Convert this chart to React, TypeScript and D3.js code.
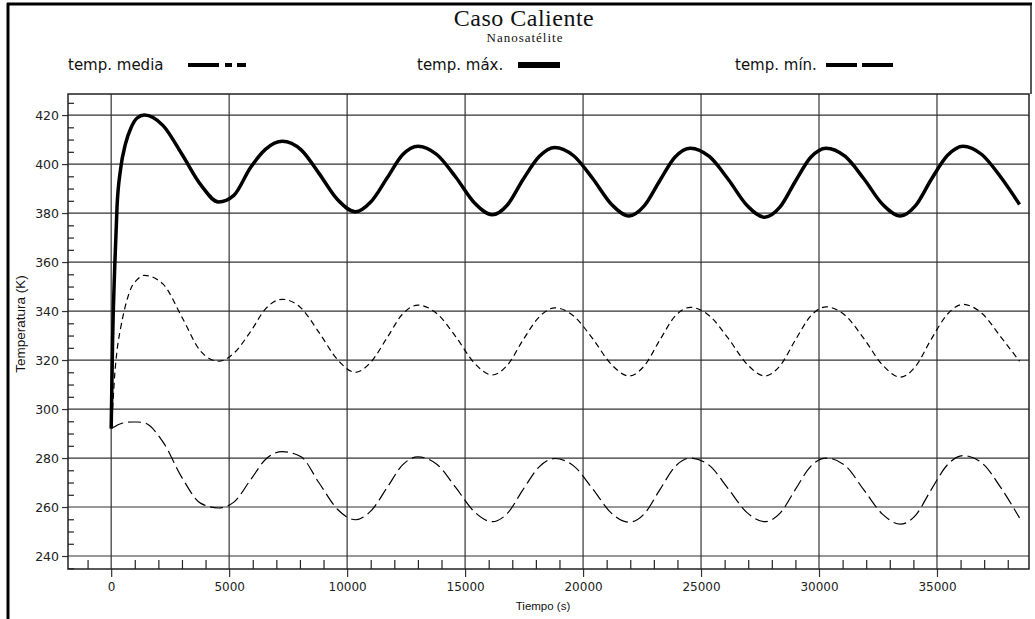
import React, { useEffect, useRef } from 'react';
import * as d3 from 'd3';

// tiempo (s)
const tiempos = [0, 60, 150, 250, 400, 600, 850, 1100, 1400,
  2200, 3000, 3800, 4550, 5200, 5900, 6550, 7250,
  8050, 8800, 9600, 10350, 11000, 11700, 12350, 13000,
  13800, 14600, 15400, 16150, 16800, 17450, 18150, 18800,
  19600, 20400, 21200, 21950, 22600, 23250, 23900, 24550,
  25350, 26150, 26950, 27700, 28350, 29000, 29650, 30300,
  31100, 31900, 32700, 33450, 34100, 34750, 35450, 36100,
  36900, 37700, 38500];

// temp. máx. (K)
const tempMax = [292, 328, 358, 383, 398, 408, 415, 418.8, 420,
  415.7, 404, 391.5, 384.5, 387.2, 398.5, 406.1, 409.3,
  405.8, 396.3, 385.4, 380.5, 384.5, 394.4, 403.8, 407.3,
  403.9, 394.7, 384.1, 379.3, 383.4, 393.6, 403.2, 406.8,
  403.4, 394.2, 383.6, 378.8, 383.0, 393.2, 402.9, 406.5,
  403.1, 393.8, 383.1, 378.3, 382.5, 393.0, 402.8, 406.5,
  403.2, 394.0, 383.5, 378.8, 383.1, 393.6, 403.6, 407.3,
  403.9, 394.7, 383.5];

// temp. media (K)
const tempMedia = [292, 300, 314, 324, 333, 342, 349.5, 352.8, 354.6,
  351, 337.5, 323.5, 319.5, 322.8, 331.5, 341, 344.8,
  341.2, 331.4, 320.1, 315, 319.1, 329.2, 338.8, 342.4,
  339, 329.6, 318.7, 313.9, 318, 328.1, 337.7, 341.3,
  338, 328.8, 318.2, 313.5, 317.7, 328.1, 337.9, 341.5,
  338.1, 328.9, 318.3, 313.5, 317.7, 328.2, 338, 341.7,
  338.3, 328.8, 317.9, 313, 317.5, 328.4, 338.8, 342.7,
  339.1, 329.5, 319.5];

// temp. mín. (K)
const tempMin = [292.3, 292.5, 292.8, 293.4, 294, 294.5, 294.7, 294.7, 294.4,
  286.5, 272, 261.5, 259.6, 262, 271, 279.5, 282.6,
  280.5, 270, 259, 254.8, 258.3, 268, 277.2, 280.5,
  277.5, 268, 258, 254, 257.5, 267, 276.5, 279.8,
  276.8, 267.5, 257.5, 253.8, 257.3, 267, 276.5, 280,
  277, 267.5, 257.7, 254, 257.5, 267.2, 276.6, 280,
  277, 267, 257, 253, 256.7, 267, 277.3, 281,
  278, 268, 255.5];

const xTicks = [0, 5000, 10000, 15000, 20000, 25000, 30000, 35000];
const yTicks = [240, 260, 280, 300, 320, 340, 360, 380, 400, 420];

const W = 1035, H = 619;
const plot = { left: 68, top: 94, right: 1029, bottom: 569 };
const sans = '"DejaVu Sans", Verdana, sans-serif';
const arial = '"Liberation Sans", Arial, sans-serif';
const serif = '"Liberation Serif", "Times New Roman", serif';

function App() {
  const ref = useRef<SVGSVGElement>(null);

  useEffect(() => {
    const svg = d3.select(ref.current);
    svg.selectAll('*').remove();

    var x = d3.scaleLinear().domain([-1830, 38900]).range([plot.left, plot.right]);
    var y = d3.scaleLinear().domain([234.7, 428.6]).range([plot.bottom, plot.top]);

    svg.append('rect').attr('width', W).attr('height', H).attr('fill', '#fff');

    // outer frame
    svg.append('line').attr('x1', 8).attr('x2', 8).attr('y1', 3).attr('y2', H)
      .attr('stroke', '#000').attr('stroke-width', 3);
    svg.append('line').attr('x1', 7).attr('x2', 1032).attr('y1', 4).attr('y2', 4)
      .attr('stroke', '#000').attr('stroke-width', 3);
    svg.append('line').attr('x1', 1031).attr('x2', 1031).attr('y1', 4).attr('y2', plot.top)
      .attr('stroke', '#222').attr('stroke-width', 1.5);

    // grid
    const grid = svg.append('g').attr('stroke', '#333').attr('stroke-width', 1.2);
    grid.selectAll('line.v').data(xTicks).enter().append('line')
      .attr('x1', d => x(d)).attr('x2', d => x(d))
      .attr('y1', plot.top).attr('y2', plot.bottom);
    grid.selectAll('line.h').data(yTicks).enter().append('line')
      .attr('x1', plot.left).attr('x2', plot.right)
      .attr('y1', d => y(d)).attr('y2', d => y(d));

    // minor ticks
    const xMinor = d3.range(-1000, 39000, 1000).filter(d => d % 5000 !== 0);
    svg.append('g')
      .attr('transform', 'translate(0,' + plot.bottom + ')')
      .call(d3.axisBottom(x).tickValues(xMinor).tickSize(-9).tickFormat(() => ''))
      .call(g => g.select('.domain').remove())
      .selectAll('line').attr('stroke', '#222').attr('stroke-width', 1.2);
    const yMinor = d3.range(235, 430, 5).filter(d => d % 20 !== 0);
    svg.append('g')
      .attr('transform', 'translate(' + plot.left + ',0)')
      .call(d3.axisLeft(y).tickValues(yMinor).tickSize(-6).tickFormat(() => ''))
      .call(g => g.select('.domain').remove())
      .selectAll('line').attr('stroke', '#222').attr('stroke-width', 1.2);

    // major axes with labels
    const xAxis = svg.append('g')
      .attr('transform', 'translate(0,' + plot.bottom + ')')
      .call(d3.axisBottom(x).tickValues(xTicks).tickSize(8).tickPadding(5).tickFormat(d3.format('d')));
    xAxis.select('.domain').remove();
    xAxis.selectAll('line').attr('stroke', '#333').attr('stroke-width', 1.2);
    xAxis.selectAll('text').attr('font-family', sans).attr('font-size', 12).attr('fill', '#222');

    const yAxis = svg.append('g')
      .attr('transform', 'translate(' + plot.left + ',0)')
      .call(d3.axisLeft(y).tickValues(yTicks).tickSize(6).tickPadding(3));
    yAxis.select('.domain').remove();
    yAxis.selectAll('line').attr('stroke', '#333').attr('stroke-width', 1.2);
    yAxis.selectAll('text').attr('font-family', sans).attr('font-size', 12.5).attr('fill', '#222');

    // plot frame
    svg.append('rect')
      .attr('x', plot.left).attr('y', plot.top)
      .attr('width', plot.right - plot.left).attr('height', plot.bottom - plot.top)
      .attr('fill', 'none').attr('stroke', '#222').attr('stroke-width', 1.5);

    // series
    const line = (vals: number[]) => d3.line<number>()
      .x((d, i) => x(tiempos[i]))
      .y(d => y(d))
      .curve(d3.curveMonotoneX)(vals);

    svg.append('path').attr('d', line(tempMin)).attr('fill', 'none')
      .attr('stroke', '#000').attr('stroke-width', 1.2).attr('stroke-dasharray', '13,5');
    svg.append('path').attr('d', line(tempMedia)).attr('fill', 'none')
      .attr('stroke', '#000').attr('stroke-width', 1.2).attr('stroke-dasharray', '6,4');
    svg.append('path').attr('d', line(tempMax)).attr('fill', 'none')
      .attr('stroke', '#000').attr('stroke-width', 3.5).attr('stroke-linejoin', 'round');

    // titles
    svg.append('text').attr('x', 524).attr('y', 26).attr('text-anchor', 'middle')
      .attr('font-family', serif).attr('font-size', 24).attr('letter-spacing', 0.5)
      .attr('fill', '#111').text('Caso Caliente');
    svg.append('text').attr('x', 525).attr('y', 42).attr('text-anchor', 'middle')
      .attr('font-family', serif).attr('font-size', 13).attr('letter-spacing', 1)
      .attr('fill', '#111').text('Nanosatélite');

    // legend
    const legend = [
      { label: 'temp. media', tx: 68, x1: 188, x2: 247, w: 4, dash: '31 6 7 5 9 200' },
      { label: 'temp. máx.', tx: 417, x1: 518, x2: 560, w: 6, dash: null },
      { label: 'temp. mín.', tx: 735, x1: 826, x2: 893, w: 4, dash: '31 5' },
    ];
    legend.forEach(l => {
      svg.append('text').attr('x', l.tx).attr('y', 70)
        .attr('font-family', sans).attr('font-size', 15).attr('fill', '#111').text(l.label);
      const s = svg.append('line').attr('x1', l.x1).attr('x2', l.x2).attr('y1', 65).attr('y2', 65)
        .attr('stroke', '#000').attr('stroke-width', l.w);
      if (l.dash) s.attr('stroke-dasharray', l.dash);
    });

    // axis titles
    svg.append('text').attr('x', 543).attr('y', 610).attr('text-anchor', 'middle')
      .attr('font-family', arial).attr('font-size', 11.5).attr('fill', '#111').text('Tiempo (s)');
    svg.append('text').attr('transform', 'translate(25,324) rotate(-90)').attr('text-anchor', 'middle')
      .attr('font-family', arial).attr('font-size', 13.5).attr('fill', '#111').text('Temperatura (K)');
  }, []);

  return (
    <svg ref={ref} width={W} height={H} style={{ position: 'absolute', left: 0, top: 0 }} />
  );
}

export default App;
